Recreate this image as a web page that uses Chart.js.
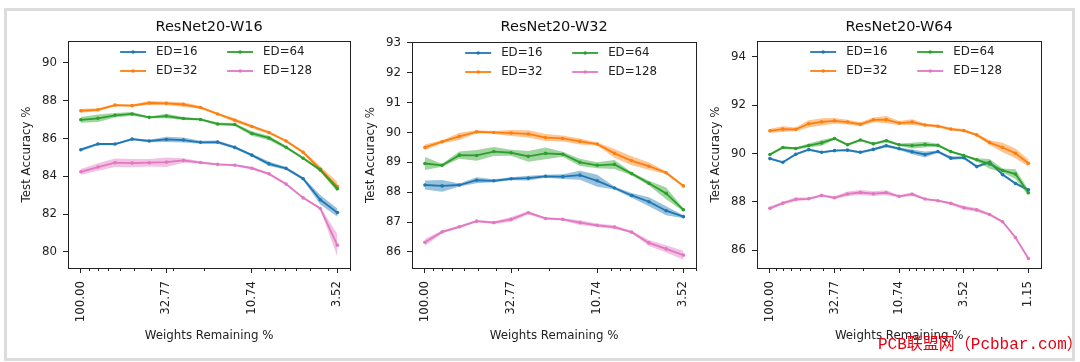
<!DOCTYPE html>
<html>
<head>
<meta charset="utf-8">
<script src="https://cdn.jsdelivr.net/npm/chart.js@4.4.1/dist/chart.umd.min.js"></script>
<style>
  body { margin: 0; background: #fff; width: 1080px; height: 362px; position: relative; overflow: hidden; }
  #frame { position: absolute; left: 4px; top: 8px; width: 1071px; height: 353px; border: 3px solid #dcdcdc; box-sizing: border-box; }
  canvas { position: absolute; }
  #mark { position: absolute; left: 878px; top: 334px; color: #e60012; font-size: 16px; line-height: 22px;
          font-family: "Liberation Mono", "Noto Sans CJK SC", monospace; white-space: nowrap; }
</style>
</head>
<body>
<div id="frame"></div>
<canvas id="c1" width="352" height="346" style="left:8px;top:12px"></canvas>
<canvas id="c2" width="354" height="346" style="left:352px;top:12px"></canvas>
<canvas id="c3" width="354" height="346" style="left:697px;top:12px"></canvas>
<div id="mark">PCB联盟网（Pcbbar.com）</div>
<script>
// weights remaining (%) after each pruning round
const xWeights16 = [100, 80, 64, 51.2, 40.96, 32.768, 26.214, 20.972, 16.777, 13.422, 10.737, 8.59, 6.872, 5.498, 4.398, 3.518];
const xWeights21 = [100, 80, 64, 51.2, 40.96, 32.768, 26.214, 20.972, 16.777, 13.422, 10.737, 8.59, 6.872, 5.498, 4.398, 3.518, 2.815, 2.252, 1.801, 1.441, 1.153];
const xTickValues = [100, 32.768, 10.737, 3.518, 1.153];
const xTickLabels = ['100.00', '32.77', '10.74', '3.52', '1.15'];
const minorTicks = [90, 80, 70, 60, 50, 40, 30, 20, 9, 8, 7, 6, 5, 4, 3, 2];

const seriesLabels = ['ED=16', 'ED=32', 'ED=64', 'ED=128'];
const seriesColors = ['#1f77b4', '#ff7f0e', '#2ca02c', '#e377c2'];
const bandColors = ['rgba(31,119,180,0.45)', 'rgba(255,127,14,0.45)', 'rgba(44,160,44,0.45)', 'rgba(227,119,194,0.45)'];

// ResNet20-W16
const w16Ed16 = [85.41, 85.71, 85.71, 85.97, 85.87, 85.95, 85.92, 85.80, 85.81, 85.53, 85.12, 84.66, 84.42, 83.87, 82.76, 82.08];
const w16Ed16Err = [0.08, 0.06, 0.06, 0.06, 0.07, 0.14, 0.13, 0.08, 0.08, 0.07, 0.07, 0.12, 0.07, 0.08, 0.25, 0.22];
const w16Ed32 = [87.47, 87.52, 87.77, 87.74, 87.88, 87.86, 87.80, 87.64, 87.30, 86.97, 86.64, 86.32, 85.87, 85.27, 84.38, 83.46];
const w16Ed32Err = [0.10, 0.08, 0.06, 0.06, 0.10, 0.10, 0.12, 0.08, 0.05, 0.10, 0.08, 0.08, 0.07, 0.08, 0.15, 0.25];
const w16Ed64 = [86.99, 87.07, 87.23, 87.30, 87.12, 87.19, 87.06, 87.01, 86.77, 86.74, 86.27, 86.03, 85.54, 84.96, 84.34, 83.34];
const w16Ed64Err = [0.15, 0.20, 0.12, 0.10, 0.05, 0.12, 0.08, 0.05, 0.08, 0.08, 0.12, 0.12, 0.08, 0.06, 0.08, 0.15];
const w16Ed128 = [84.24, 84.49, 84.72, 84.70, 84.72, 84.75, 84.84, 84.73, 84.63, 84.59, 84.43, 84.13, 83.59, 82.86, 82.30, 80.35];
const w16Ed128Err = [0.15, 0.20, 0.22, 0.22, 0.20, 0.25, 0.12, 0.07, 0.05, 0.05, 0.08, 0.06, 0.06, 0.05, 0.06, 0.60];
const w16YTicks = [80, 82, 84, 86, 88, 90];

// ResNet20-W32
const w32Ed16 = [88.24, 88.21, 88.24, 88.40, 88.38, 88.45, 88.47, 88.53, 88.52, 88.57, 88.38, 88.14, 87.89, 87.68, 87.38, 87.18];
const w32Ed16Err = [0.15, 0.20, 0.05, 0.10, 0.05, 0.05, 0.08, 0.05, 0.08, 0.15, 0.20, 0.05, 0.08, 0.15, 0.15, 0.05];
const w32Ed32 = [89.50, 89.69, 89.87, 90.02, 90.00, 89.98, 89.95, 89.83, 89.80, 89.70, 89.61, 89.30, 89.05, 88.87, 88.65, 88.21];
const w32Ed32Err = [0.10, 0.05, 0.12, 0.05, 0.05, 0.10, 0.12, 0.12, 0.10, 0.10, 0.05, 0.15, 0.15, 0.12, 0.05, 0.05];
const w32Ed64 = [88.96, 88.90, 89.24, 89.23, 89.36, 89.32, 89.20, 89.30, 89.27, 89.00, 88.90, 88.93, 88.62, 88.30, 87.96, 87.41];
const w32Ed64Err = [0.22, 0.05, 0.12, 0.18, 0.15, 0.10, 0.18, 0.20, 0.08, 0.12, 0.10, 0.15, 0.05, 0.08, 0.20, 0.05];
const w32Ed128 = [86.32, 86.67, 86.84, 87.03, 86.98, 87.09, 87.31, 87.12, 87.09, 86.98, 86.89, 86.83, 86.66, 86.30, 86.10, 85.89];
const w32Ed128Err = [0.12, 0.05, 0.05, 0.04, 0.05, 0.08, 0.06, 0.04, 0.04, 0.08, 0.06, 0.06, 0.04, 0.10, 0.12, 0.15];
const w32YTicks = [86, 87, 88, 89, 90, 91, 92, 93];

// ResNet20-W64
const w64Ed16 = [89.79, 89.64, 89.97, 90.16, 90.05, 90.12, 90.14, 90.05, 90.17, 90.32, 90.20, 90.07, 89.96, 90.08, 89.81, 89.83, 89.46, 89.64, 89.13, 88.76, 88.50];
const w64Ed16Err = [0.05, 0.04, 0.05, 0.05, 0.05, 0.04, 0.05, 0.05, 0.06, 0.06, 0.05, 0.10, 0.12, 0.05, 0.08, 0.06, 0.06, 0.06, 0.05, 0.05, 0.05];
const w64Ed32 = [90.94, 91.01, 91.00, 91.23, 91.31, 91.35, 91.30, 91.21, 91.39, 91.40, 91.26, 91.30, 91.18, 91.13, 91.01, 90.95, 90.77, 90.45, 90.25, 90.01, 89.60];
const w64Ed32Err = [0.08, 0.12, 0.08, 0.15, 0.15, 0.12, 0.10, 0.08, 0.10, 0.15, 0.08, 0.12, 0.06, 0.06, 0.06, 0.06, 0.06, 0.10, 0.20, 0.20, 0.15];
const w64Ed64 = [89.96, 90.25, 90.21, 90.33, 90.44, 90.62, 90.36, 90.56, 90.40, 90.53, 90.36, 90.33, 90.37, 90.34, 90.08, 89.92, 89.74, 89.57, 89.30, 89.15, 88.38];
const w64Ed64Err = [0.05, 0.05, 0.05, 0.08, 0.12, 0.05, 0.05, 0.05, 0.05, 0.06, 0.05, 0.12, 0.12, 0.06, 0.05, 0.04, 0.06, 0.20, 0.08, 0.20, 0.12];
const w64Ed128 = [87.74, 87.95, 88.11, 88.13, 88.27, 88.17, 88.33, 88.39, 88.34, 88.38, 88.23, 88.32, 88.12, 88.05, 87.94, 87.76, 87.67, 87.48, 87.18, 86.53, 85.66];
const w64Ed128Err = [0.08, 0.06, 0.08, 0.05, 0.05, 0.06, 0.10, 0.10, 0.10, 0.10, 0.05, 0.08, 0.04, 0.04, 0.06, 0.08, 0.08, 0.06, 0.05, 0.04, 0.04];
const w64YTicks = [86, 88, 90, 92, 94];

Chart.defaults.font.family = '"DejaVu Sans", sans-serif';
Chart.defaults.color = '#222';

const panels = [
  { id: 'c1', title: 'ResNet20-W16', x: xWeights16,
    series: [w16Ed16, w16Ed32, w16Ed64, w16Ed128], errs: [w16Ed16Err, w16Ed32Err, w16Ed64Err, w16Ed128Err],
    yTicks: w16YTicks, yMin: 79.15, yMax: 91.16, xMin: 2.976, xMax: 118.2, majors: 4,
    canvas: { left: 8, top: 12, width: 352, height: 346 }, plot: { left: 68, right: 352, top: 41, bottom: 268 } },
  { id: 'c2', title: 'ResNet20-W32', x: xWeights16,
    series: [w32Ed16, w32Ed32, w32Ed64, w32Ed128], errs: [w32Ed16Err, w32Ed32Err, w32Ed64Err, w32Ed128Err],
    yTicks: w32YTicks, yMin: 85.46, yMax: 93.03, xMin: 2.976, xMax: 118.2, majors: 4,
    canvas: { left: 352, top: 12, width: 354, height: 346 }, plot: { left: 412, right: 698, top: 42, bottom: 268 } },
  { id: 'c3', title: 'ResNet20-W64', x: xWeights21,
    series: [w64Ed16, w64Ed32, w64Ed64, w64Ed128], errs: [w64Ed16Err, w64Ed32Err, w64Ed64Err, w64Ed128Err],
    yTicks: w64YTicks, yMin: 85.27, yMax: 94.65, xMin: 0.922, xMax: 125.0, majors: 5,
    canvas: { left: 697, top: 12, width: 354, height: 346 }, plot: { left: 757, right: 1043, top: 41, bottom: 268 } },
];

const fontSize = 11.8;
const titleSize = 14.5;

// band (upper, lower filled to upper) + mean line per series; later series drawn on top
function makeDatasets(p) {
  const sets = [];
  p.series.forEach((vals, s) => {
    const err = p.errs[s];
    const base = (3 - s) * 10;
    sets.push({ data: vals.map((v, i) => ({ x: p.x[i], y: v + err[i] })),
      borderColor: 'transparent', borderWidth: 1, pointRadius: 0, fill: false, order: base + 2 });
    sets.push({ data: vals.map((v, i) => ({ x: p.x[i], y: v - err[i] })),
      borderColor: 'transparent', borderWidth: 1, pointRadius: 0, fill: '-1', backgroundColor: bandColors[s], order: base + 1 });
    sets.push({ label: seriesLabels[s], data: vals.map((v, i) => ({ x: p.x[i], y: v })),
      borderColor: seriesColors[s], backgroundColor: seriesColors[s], borderWidth: 1.8,
      pointRadius: 1.8, pointBorderWidth: 0, fill: false, order: base });
  });
  return sets;
}

// axes frame + minor x ticks
const axesBox = {
  id: 'axesBox',
  afterDraw(chart) {
    const { ctx, chartArea: a, scales } = chart;
    ctx.save();
    ctx.strokeStyle = '#222';
    ctx.lineWidth = 1;
    ctx.strokeRect(Math.round(a.left) + 0.5, Math.round(a.top) + 0.5, Math.round(a.right - a.left), Math.round(a.bottom - a.top));
    const xs = scales.x;
    ctx.beginPath();
    minorTicks.forEach(v => {
      if (v <= xs.min || v >= xs.max) return;
      const px = Math.round(xs.getPixelForValue(v)) + 0.5;
      ctx.moveTo(px, a.bottom);
      ctx.lineTo(px, a.bottom + 3);
    });
    ctx.stroke();
    ctx.restore();
  }
};

// two-column legend inside the axes, like matplotlib ncol=2
const insideLegend = {
  id: 'insideLegend',
  afterDatasetsDraw(chart) {
    const { ctx, chartArea } = chart;
    const x0 = (chartArea.left + chartArea.right) / 2 - 89;
    ctx.save();
    ctx.font = fontSize + 'px "DejaVu Sans"';
    ctx.textBaseline = 'middle';
    seriesLabels.forEach((lab, i) => {
      const x = x0 + Math.floor(i / 2) * 107;
      const y = chartArea.top + (i % 2 ? 30 : 11);
      ctx.strokeStyle = seriesColors[i];
      ctx.lineWidth = 1.8;
      ctx.beginPath();
      ctx.moveTo(x, y);
      ctx.lineTo(x + 26, y);
      ctx.stroke();
      ctx.fillStyle = seriesColors[i];
      ctx.beginPath();
      ctx.arc(x + 13, y, 1.8, 0, Math.PI * 2);
      ctx.fill();
      ctx.fillStyle = '#222';
      ctx.fillText(lab, x + 36, y);
    });
    ctx.restore();
  }
};

panels.forEach(p => {
  const c = p.canvas, a = p.plot;
  const majors = xTickValues.slice(0, p.majors);
  const titleLine = titleSize * 1.2;
  new Chart(document.getElementById(p.id), {
    type: 'line',
    data: { datasets: makeDatasets(p) },
    options: {
      responsive: false,
      animation: false,
      devicePixelRatio: 1,
      layout: { padding: { left: 0, top: 0, bottom: 0, right: c.left + c.width - a.right } },
      plugins: {
        legend: { display: false },
        tooltip: { enabled: false },
        title: {
          display: true, text: p.title, fullSize: false, color: '#111',
          font: { size: titleSize, weight: 'normal' },
          padding: { top: 27 - c.top - titleLine / 2, bottom: a.top - 27 - titleLine / 2 }
        }
      },
      scales: {
        x: {
          type: 'logarithmic', reverse: true, bounds: 'data', min: p.xMin, max: p.xMax,
          afterBuildTicks: s => { s.ticks = majors.map(v => ({ value: v })); },
          afterFit: s => { s.height = c.top + c.height - a.bottom; },
          ticks: {
            autoSkip: false, minRotation: 90, maxRotation: 90, padding: 8, color: '#222',
            font: { size: fontSize },
            callback: v => xTickLabels[xTickValues.indexOf(v)]
          },
          grid: { drawOnChartArea: false, tickLength: 5, tickColor: '#222' },
          border: { display: false },
          title: { display: true, text: 'Weights Remaining %', color: '#222', font: { size: fontSize },
            padding: { top: 0, bottom: 22 - fontSize * 0.6 } }
        },
        y: {
          bounds: 'data', min: p.yMin, max: p.yMax,
          afterBuildTicks: s => { s.ticks = p.yTicks.map(v => ({ value: v })); },
          afterFit: s => { s.width = a.left - c.left; },
          ticks: { padding: 6, color: '#222', font: { size: fontSize } },
          grid: { drawOnChartArea: false, tickLength: 5, tickColor: '#222' },
          border: { display: false },
          title: { display: true, text: 'Test Accuracy %', color: '#222', font: { size: fontSize },
            padding: { top: a.left - c.left - 41 - fontSize * 0.6, bottom: 0 } }
        }
      }
    },
    plugins: [axesBox, insideLegend]
  });
});
</script>
</body>
</html>
